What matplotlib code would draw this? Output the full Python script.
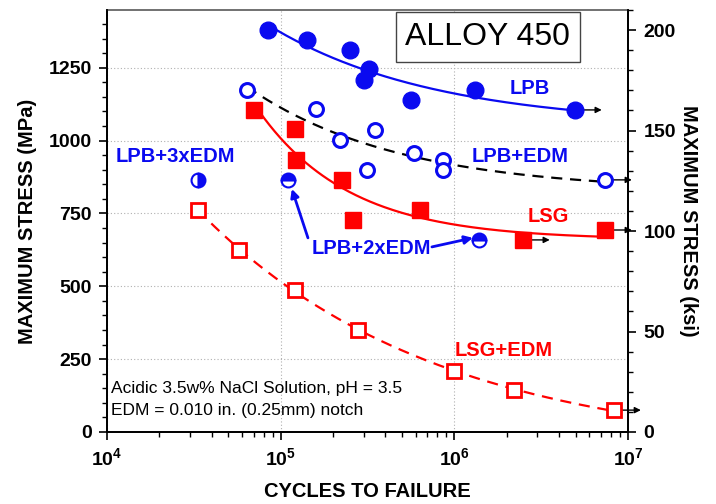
import numpy as np
import matplotlib
matplotlib.use("Agg")
import matplotlib.pyplot as plt
from matplotlib.ticker import MultipleLocator, LogLocator, NullFormatter, FuncFormatter

plt.rcParams["font.family"] = ["Liberation Sans", "DejaVu Sans"]
plt.rcParams["mathtext.fontset"] = "custom"
plt.rcParams["mathtext.rm"] = "Liberation Sans"
plt.rcParams["mathtext.bf"] = "Liberation Sans:bold"

BLUE = "#0a0af0"
RED = "#ff0000"
MPA_PER_KSI = 6.895

# cycles to failure / max stress (MPa)
lpb_n = [84.6e3, 142e3, 250e3, 322e3, 302e3, 562e3, 1.32e6, 4.94e6]
lpb_s = [1380, 1345, 1311, 1246, 1208, 1139, 1174, 1105]
lpb_runout = [4.94e6]

lpb_edm_n = [64e3, 160e3, 219e3, 349e3, 314e3, 585e3, 860e3, 860e3, 7.36e6]
lpb_edm_s = [1174, 1108, 1002, 1036, 899, 957, 933, 899, 865]
lpb_edm_runout = [7.36e6]

lpb_3edm_n = [33.4e3]
lpb_3edm_s = [865]

lpb_2edm_n = [110e3, 1.39e6]
lpb_2edm_s = [865, 659]

lsg_n = [70e3, 121e3, 122e3, 225e3, 261e3, 634e3, 2.48e6, 7.36e6]
lsg_s = [1105, 1040, 933, 865, 727, 762, 659, 693]
lsg_runout = [2.48e6, 7.36e6]

lsg_edm_n = [33.4e3, 57.5e3, 121e3, 279e3, 1.0e6, 2.2e6, 8.3e6]
lsg_edm_s = [762, 625, 487, 350, 209, 144, 75]
lsg_edm_runout = [8.3e6]


def fit_curve(n, s, steps=200):
    # least squares fit of s = A + B * (n / n0) ** c, best c picked on a grid
    n = np.asarray(n, float)
    s = np.asarray(s, float)
    n0 = n.min()
    best = None
    for c in np.linspace(-2.0, -0.02, 200):
        m = np.column_stack([np.ones_like(n), (n / n0) ** c])
        coef, res, *_ = np.linalg.lstsq(m, s, rcond=None)
        err = np.sum((m @ coef - s) ** 2)
        if best is None or err < best[0]:
            best = (err, c, coef)
    _, c, (a, b) = best
    xs = np.logspace(np.log10(n.min()), np.log10(n.max()), steps)
    return xs, a + b * (xs / n0) ** c


def runout_arrows(ax, n, s, runouts):
    for x, y in zip(n, s):
        if x in runouts:
            ax.annotate("", xy=(x * 10 ** 0.155, y), xytext=(x, y),
                        arrowprops=dict(arrowstyle="-|>", color="black", lw=1.0,
                                        mutation_scale=9, shrinkA=0, shrinkB=0),
                        annotation_clip=False, zorder=2)


fig = plt.figure(figsize=(7.16, 5.04), dpi=100)
ax = fig.add_axes([0.1494, 0.1429, 0.7277, 0.8373])

# trend curves
cx, cy = fit_curve(lpb_n, lpb_s)
ax.plot(cx, cy, color=BLUE, lw=1.6, zorder=2)
cx, cy = fit_curve(lpb_edm_n, lpb_edm_s)
ax.plot(cx, cy, color="black", lw=1.6, ls=(0, (5, 3.5)), zorder=2)
cx, cy = fit_curve(lsg_n, lsg_s)
ax.plot(cx, cy, color=RED, lw=1.6, zorder=2)
cx, cy = fit_curve(lsg_edm_n, lsg_edm_s)
ax.plot(cx, cy, color=RED, lw=1.6, ls=(0, (5, 3.5)), zorder=2)

for n, s, r in [(lpb_n, lpb_s, lpb_runout), (lpb_edm_n, lpb_edm_s, lpb_edm_runout),
                (lsg_n, lsg_s, lsg_runout), (lsg_edm_n, lsg_edm_s, lsg_edm_runout)]:
    runout_arrows(ax, n, s, r)

# markers
ax.plot(lpb_n, lpb_s, "o", color=BLUE, ms=12, mec=BLUE, ls="none", zorder=4)
ax.plot(lpb_edm_n, lpb_edm_s, "o", mfc="white", mec=BLUE, mew=2.2, ms=10, ls="none", zorder=4)
ax.plot(lpb_3edm_n, lpb_3edm_s, "o", fillstyle="right", color=BLUE, mfc=BLUE,
        markerfacecoloralt="white", mec=BLUE, mew=1.5, ms=10, ls="none", zorder=4)
ax.plot(lpb_2edm_n, lpb_2edm_s, "o", fillstyle="top", color=BLUE, mfc=BLUE,
        markerfacecoloralt="white", mec=BLUE, mew=1.5, ms=10, ls="none", zorder=4)
ax.plot(lsg_n, lsg_s, "s", color=RED, ms=11, mec=RED, ls="none", zorder=4)
ax.plot(lsg_edm_n, lsg_edm_s, "s", mfc="white", mec=RED, mew=2.0, ms=9.5, ls="none", zorder=4)

# axes setup
ax.set_xscale("log")
ax.set_xlim(1e4, 1e7)
ax.set_ylim(0, 210 * MPA_PER_KSI)
ax.xaxis.set_major_locator(LogLocator(base=10, numticks=10))
ax.xaxis.set_minor_locator(LogLocator(base=10, subs=np.arange(2, 10), numticks=10))
ax.xaxis.set_minor_formatter(NullFormatter())
ax.xaxis.set_major_formatter(FuncFormatter(lambda v, p: r"$\mathbf{10^{%d}}$" % round(np.log10(v))))
ax.yaxis.set_major_locator(MultipleLocator(250))
ax.yaxis.set_minor_locator(MultipleLocator(50))
ax.grid(True, which="major", color="#b0b0b0", ls=(0, (1, 2)), lw=0.8)
ax.tick_params(which="major", direction="out", length=6, width=1.2, labelsize=14, pad=5)
ax.tick_params(which="minor", direction="out", length=3.5, width=1.0)
for lab in ax.get_yticklabels():
    lab.set_fontweight("bold")
for sp in ax.spines.values():
    sp.set_linewidth(1.3)
ax.spines["top"].set_color("#666666")
ax.set_xlabel("CYCLES TO FAILURE", fontsize=14.5, fontweight="bold", labelpad=9)
ax.set_ylabel("MAXIMUM STRESS (MPa)", fontsize=14.5, fontweight="bold", labelpad=8)

ax2 = ax.twinx()
ax2.set_ylim(0, 210)
ax2.yaxis.set_major_locator(MultipleLocator(50))
ax2.yaxis.set_minor_locator(MultipleLocator(10))
ax2.tick_params(which="major", direction="out", length=6, width=1.2, labelsize=14, pad=5)
ax2.tick_params(which="minor", direction="out", length=3.5, width=1.0)
for lab in ax2.get_yticklabels():
    lab.set_fontweight("bold")
for sp in ax2.spines.values():
    sp.set_linewidth(1.3)
ax2.spines["top"].set_visible(False)
ax2.set_ylabel("MAXIMUM STRESS (ksi)", fontsize=14.5, fontweight="bold", rotation=-90, labelpad=16)

# labels
lbl = dict(fontsize=14.5, fontweight="bold", ha="center", va="center")
ax.text(2.72e6, 1180, "LPB", color=BLUE, **lbl)
ax.text(2.39e6, 944, "LPB+EDM", color=BLUE, **lbl)
ax.text(3.46e6, 738, "LSG", color=RED, **lbl)
ax.text(1.93e6, 278, "LSG+EDM", color=RED, **lbl)
ax.text(2.49e4, 944, "LPB+3xEDM", color=BLUE, **lbl)
ax.text(3.31e5, 631, "LPB+2xEDM", color=BLUE, **lbl)
for tail, head in [((1.436e5, 666), (1.16e5, 834)), ((7.43e5, 635), (1.28e6, 666))]:
    ax.annotate("", xy=head, xytext=tail,
                arrowprops=dict(arrowstyle="-|>", color=BLUE, lw=2.0, mutation_scale=12,
                                shrinkA=0, shrinkB=0), zorder=3)

ax.text(0.731, 0.936, "ALLOY 450", transform=ax.transAxes, fontsize=23,
        ha="center", va="center",
        bbox=dict(boxstyle="square,pad=0.3", fc="white", ec="#444444", lw=1.0), zorder=6)
ax.text(0.008, 0.104, "Acidic 3.5w% NaCl Solution, pH = 3.5", transform=ax.transAxes,
        fontsize=12.5, ha="left", va="center")
ax.text(0.008, 0.05, "EDM = 0.010 in. (0.25mm) notch", transform=ax.transAxes,
        fontsize=12.5, ha="left", va="center")

fig.savefig("out.png", dpi=100)
